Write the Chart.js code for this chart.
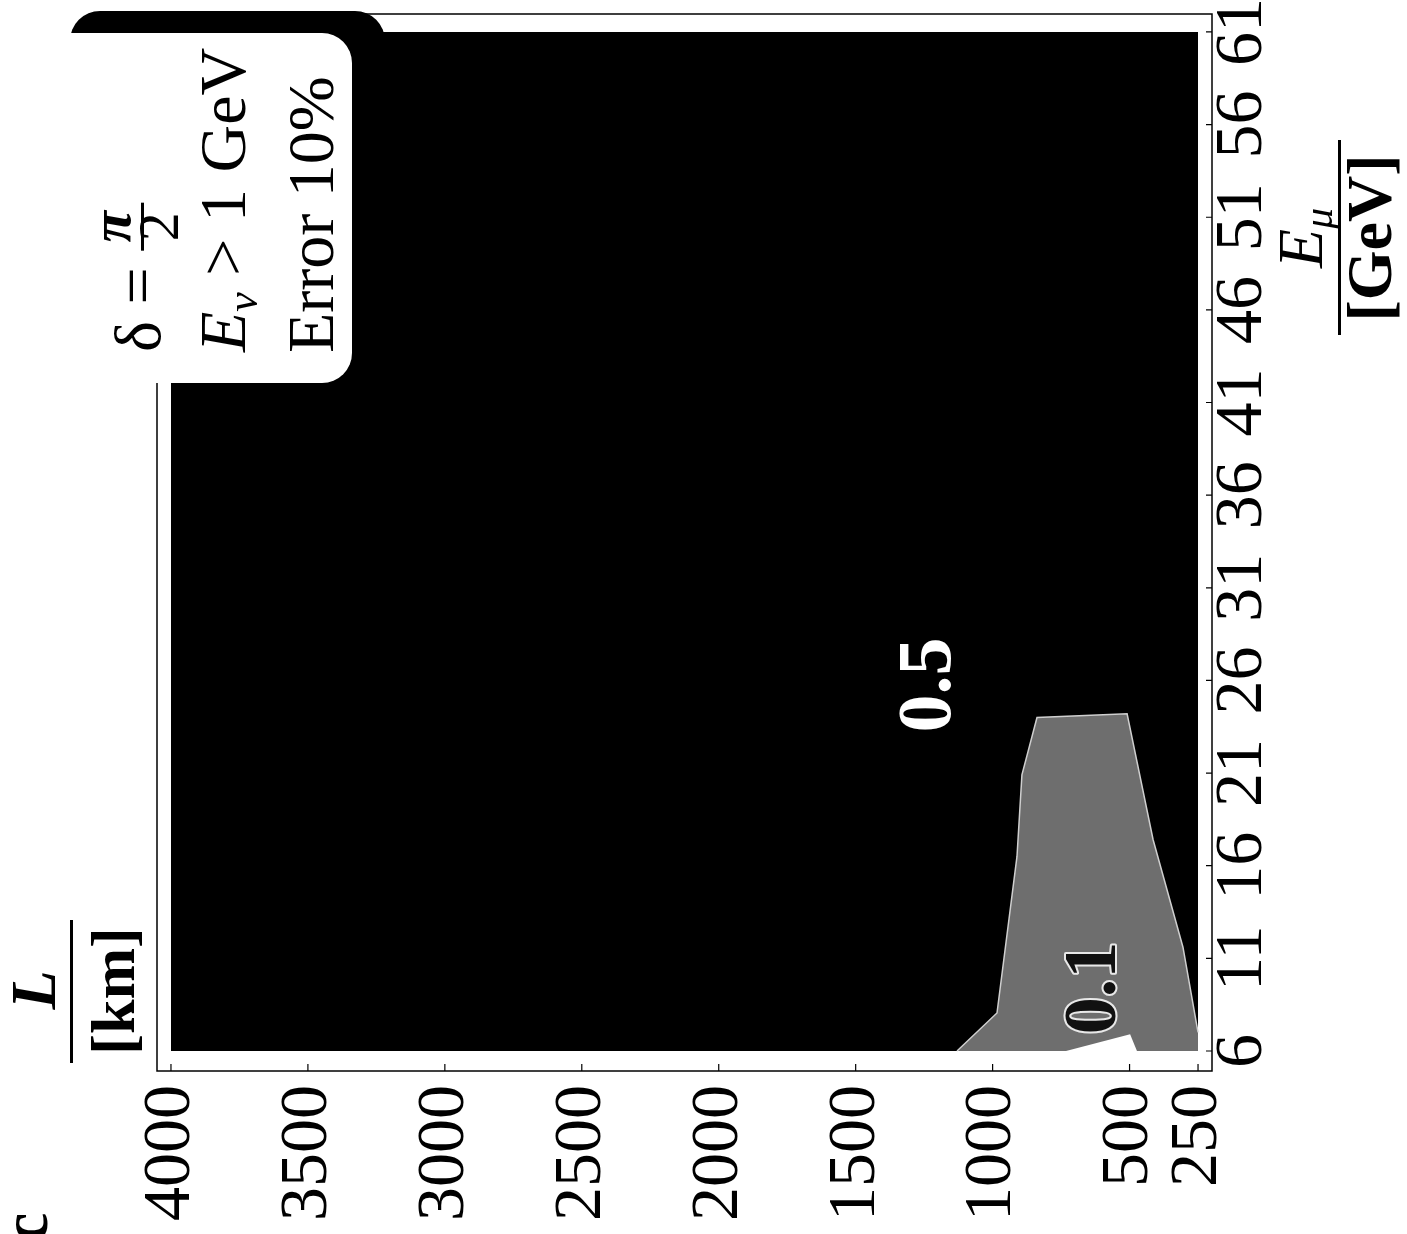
<!DOCTYPE html>
<html>
<head>
<meta charset="utf-8">
<script src="https://cdn.jsdelivr.net/npm/chart.js@4.4.0/dist/chart.umd.min.js"></script>
<style>
  html, body { margin: 0; padding: 0; background: #fff; }
  #wrap { width: 1407px; height: 1234px; position: relative; }
</style>
</head>
<body>
<div id="wrap"><canvas id="c"></canvas></div>
<script>
// ---------------- data ----------------
const lTickValues = [4000, 3500, 3000, 2500, 2000, 1500, 1000, 500, 250];   // L [km]
const eTickValues = [6, 11, 16, 21, 26, 31, 36, 41, 46, 51, 56, 61];        // E_mu [GeV]

// region where the error is at the 0.5 level (black), upper edge
const region05L = [250, 4000];
const region05E = [61, 61];

// region at the 0.1 level (grey), upper contour
const region01L = [250, 305, 414, 509, 838, 893, 911, 984, 1130];
const region01E = [7.0, 11.6, 17.4, 24.2, 24.0, 20.9, 16.5, 8.05, 6];

// small uncovered notch at the lower edge
const notchL = [473, 498, 732];
const notchE = [6, 6.9, 6];

// contour labels
const contourText = ['0.5', '0.1'];
const contourL = [1229, 622];
const contourE = [25.75, 9.4];

const lowerE = 6;

// ---------------- helpers ----------------
const toXY = (L, E) => L.map((v, i) => ({ x: v, y: E[i] }));
const SERIF = 'Liberation Serif';

function rotRuns(ctx, x, y, parts) {
  ctx.save();
  ctx.translate(x, y);
  ctx.rotate(-Math.PI / 2);
  ctx.textAlign = 'left';
  ctx.textBaseline = 'alphabetic';
  ctx.fillStyle = '#000';
  let cx = 0;
  for (const p of parts) {
    ctx.font = p.font;
    ctx.fillText(p.t, cx, p.dy || 0);
    cx += ctx.measureText(p.t).width;
  }
  ctx.restore();
  return cx;
}

function rotCenter(ctx, text, x, y, font, color, stroke) {
  ctx.save();
  ctx.translate(x, y);
  ctx.rotate(-Math.PI / 2);
  ctx.font = font;
  ctx.textAlign = 'center';
  ctx.textBaseline = 'middle';
  if (stroke) {
    ctx.lineJoin = 'round';
    ctx.strokeStyle = stroke;
    ctx.lineWidth = 4;
    ctx.strokeText(text, 0, 0);
  }
  ctx.fillStyle = color;
  ctx.fillText(text, 0, 0);
  ctx.restore();
}

function rotCenterBase(ctx, text, x, y, font) {
  ctx.save();
  ctx.translate(x, y);
  ctx.rotate(-Math.PI / 2);
  ctx.font = font;
  ctx.textAlign = 'center';
  ctx.textBaseline = 'alphabetic';
  ctx.fillStyle = '#000';
  ctx.fillText(text, 0, 0);
  ctx.restore();
}

const decor = {
  id: 'decor',
  afterDatasetsDraw(chart) {
    const { ctx, chartArea: a, scales: { x, y } } = chart;
    ctx.save();

    // contour labels
    rotCenter(ctx, contourText[0], x.getPixelForValue(contourL[0]), y.getPixelForValue(contourE[0]),
      'bold 76px ' + SERIF, '#fff');
    rotCenter(ctx, contourText[1], x.getPixelForValue(contourL[1]), y.getPixelForValue(contourE[1]),
      'bold 74px ' + SERIF, '#111', '#e8e8e8');

    // frame
    ctx.strokeStyle = '#000';
    ctx.lineWidth = 1.5;
    ctx.strokeRect(a.left, a.top, a.right - a.left, a.bottom - a.top);

    // inward tick marks
    ctx.lineWidth = 1.2;
    ctx.beginPath();
    lTickValues.forEach(v => {
      const px = x.getPixelForValue(v);
      ctx.moveTo(px, a.bottom); ctx.lineTo(px, a.bottom - 7);
    });
    eTickValues.forEach(v => {
      const py = y.getPixelForValue(v);
      ctx.moveTo(a.right, py); ctx.lineTo(a.right - 6, py);
    });
    ctx.stroke();

    // legend box with shadow
    ctx.fillStyle = '#000';
    ctx.beginPath();
    ctx.roundRect(70, 11, 315, 360, 30);
    ctx.fill();
    ctx.fillStyle = '#fff';
    ctx.beginPath();
    ctx.roundRect(40, 33, 312, 350, 30);
    ctx.fill();

    // legend text (rotated, reading bottom to top)
    const F66 = '66px ' + SERIF;
    const w0 = rotRuns(ctx, 160, 352, [{ t: 'δ = ', font: F66 }]);
    ctx.save();
    ctx.translate(160, 352);
    ctx.rotate(-Math.PI / 2);
    const fc = w0 + 24;
    ctx.fillStyle = '#000';
    ctx.textAlign = 'center';
    ctx.textBaseline = 'alphabetic';
    ctx.font = 'bold italic 58px ' + SERIF;
    ctx.fillText('π', fc, -30);
    ctx.font = '58px ' + SERIF;
    ctx.fillText('2', fc, 18);
    ctx.fillRect(fc - 24, -19, 48, 3);
    ctx.restore();

    rotRuns(ctx, 245, 352, [
      { t: 'E', font: 'italic 66px ' + SERIF },
      { t: 'ν', font: 'italic 44px ' + SERIF, dy: 12 },
      { t: ' > 1 GeV', font: F66 }
    ]);
    rotRuns(ctx, 333, 353, [{ t: 'Error 10%', font: F66 }]);

    // axis title L/[km] (top-left)
    rotCenterBase(ctx, 'L', 55, 990, 'bold italic 64px ' + SERIF);
    rotCenterBase(ctx, '[km]', 134, 991, 'bold 62px ' + SERIF);
    ctx.fillStyle = '#000';
    ctx.fillRect(70, 920, 3, 143);

    // axis title E_mu/[GeV] (right)
    ctx.font = 'italic 64px ' + SERIF; const a1 = ctx.measureText('E').width;
    ctx.font = 'italic 42px ' + SERIF; const a2 = ctx.measureText('μ').width;
    rotRuns(ctx, 1322, 238 + (a1 + a2) / 2, [
      { t: 'E', font: 'italic 64px ' + SERIF },
      { t: 'μ', font: 'italic 42px ' + SERIF, dy: 10 }
    ]);
    ctx.fillStyle = '#000';
    ctx.fillRect(1338, 140, 3, 195);
    rotCenterBase(ctx, '[GeV]', 1391, 238, 'bold 64px ' + SERIF);

    // panel letter, partly cut at the lower edge
    rotRuns(ctx, 47, 1242, [{ t: 'c', font: 'bold 66px ' + SERIF }]);

    ctx.restore();
  }
};

new Chart(document.getElementById('c'), {
  type: 'line',
  data: {
    datasets: [
      { label: '0.5', data: toXY(region05L, region05E), backgroundColor: '#000',
        borderColor: 'rgba(0,0,0,0)', borderWidth: 1, pointRadius: 0, fill: { value: lowerE }, order: 3 },
      { label: '0.1', data: toXY(region01L, region01E), backgroundColor: '#6e6e6e',
        borderColor: '#cfcfcf', borderWidth: 1.5, pointRadius: 0, fill: { value: lowerE }, order: 2 },
      { label: 'uncovered', data: toXY(notchL, notchE), backgroundColor: '#fff',
        borderColor: 'rgba(0,0,0,0)', borderWidth: 1, pointRadius: 0, fill: { value: lowerE }, order: 1 }
    ]
  },
  options: {
    responsive: true,
    maintainAspectRatio: false,
    animation: false,
    devicePixelRatio: 1,
    layout: { padding: { left: 157, top: 14, right: 0, bottom: 0 } },
    elements: { line: { tension: 0 } },
    plugins: { legend: { display: false }, tooltip: { enabled: false }, title: { display: false } },
    scales: {
      x: {
        type: 'linear', reverse: true, min: 199, max: 4051, position: 'bottom',
        afterBuildTicks: s => { s.ticks = lTickValues.map(v => ({ value: v })); },
        afterFit: s => { s.height = 163; s.paddingLeft = 0; s.paddingRight = 0; },
        grid: { display: false, drawTicks: false }, border: { display: false },
        ticks: { autoSkip: false, minRotation: 90, maxRotation: 90, padding: 14, color: '#000',
          font: { family: SERIF, size: 68 }, callback: v => String(v) }
      },
      y: {
        type: 'linear', position: 'right', min: 4.92, max: 61.97,
        afterBuildTicks: s => { s.ticks = eTickValues.map(v => ({ value: v })); },
        afterFit: s => { s.width = 195; s.paddingTop = 0; s.paddingBottom = 0; },
        grid: { display: false, drawTicks: false }, border: { display: false },
        ticks: { autoSkip: false, minRotation: 90, maxRotation: 90, crossAlign: 'center', padding: -3,
          color: '#000', font: { family: SERIF, size: 68 }, callback: v => String(v) }
      }
    }
  },
  plugins: [decor]
});
</script>
</body>
</html>
